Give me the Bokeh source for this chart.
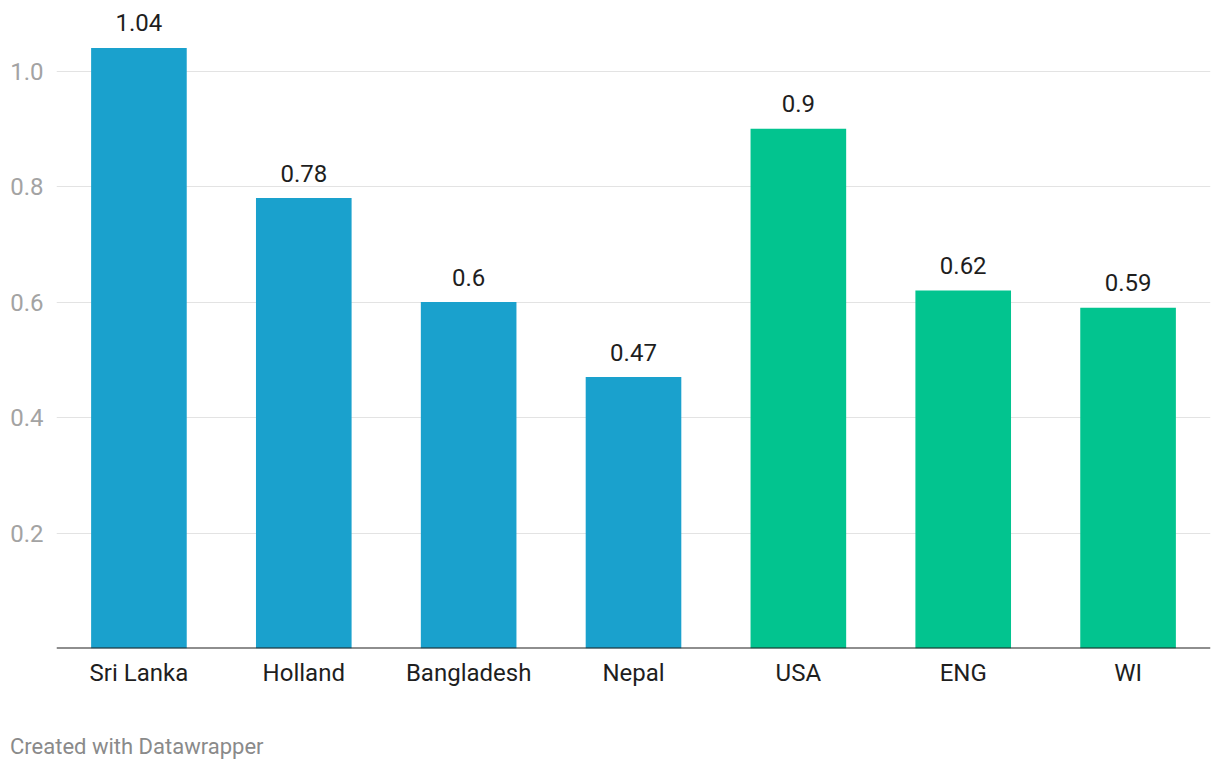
from bokeh.plotting import figure
from bokeh.models import ColumnDataSource, FixedTicker, Span, Range1d, NumeralTickFormatter, Div
from bokeh.layouts import column
from bokeh.core.properties import value
from bokeh.embed import file_html
from bokeh.resources import INLINE

categories = ["Sri Lanka", "Holland", "Bangladesh", "Nepal", "USA", "ENG", "WI"]
values = [1.04, 0.78, 0.6, 0.47, 0.9, 0.62, 0.59]
labels = ["1.04", "0.78", "0.6", "0.47", "0.9", "0.62", "0.59"]
colors = ["#1aa1cd", "#1aa1cd", "#1aa1cd", "#1aa1cd", "#02c48f", "#02c48f", "#02c48f"]
y_ticks = [0.2, 0.4, 0.6, 0.8, 1.0]
footer_text = "Created with Datawrapper"

FONT = "Roboto"

src = ColumnDataSource(dict(cat=categories, val=values, lab=labels, col=colors))

p = figure(x_range=categories, y_range=Range1d(0, 1.1221), width=1220, height=708,
           output_backend="svg", toolbar_location=None,
           min_border_left=56, min_border_right=10, min_border_top=0, min_border_bottom=60)
p.outline_line_color = None
p.background_fill_color = "white"
p.border_fill_color = "white"

p.vbar(x="cat", top="val", width=0.58, color="col", line_color=None, source=src)

p.text(x="cat", y="val", text="lab", source=src, text_align="center",
       text_baseline="middle", y_offset=-25, text_color="#1e1e1e",
       text_font=value(FONT), text_font_size="24px")

p.x_range.range_padding = 0
p.x_range.factor_padding = 0

p.yaxis.ticker = FixedTicker(ticks=y_ticks)
p.yaxis.formatter = NumeralTickFormatter(format="0.0")
p.yaxis.axis_line_color = None
p.yaxis.major_tick_line_color = None
p.yaxis.minor_tick_line_color = None
p.yaxis.major_label_standoff = 7
p.yaxis.major_label_text_color = "#a3a3a3"
p.yaxis.major_label_text_font = FONT
p.yaxis.major_label_text_font_size = "24px"

p.xaxis.axis_line_color = None
p.xaxis.major_tick_line_color = None
p.xaxis.minor_tick_line_color = None
p.xaxis.major_label_standoff = 4
p.xaxis.major_label_text_color = "#1e1e1e"
p.xaxis.major_label_text_font = FONT
p.xaxis.major_label_text_font_size = "24px"

p.xgrid.grid_line_color = None
p.ygrid.grid_line_color = "#e3e3e3"
p.ygrid.grid_line_width = 1

p.add_layout(Span(location=0, dimension="width", line_color="#1e1e1e", line_width=2))

footer = Div(text=footer_text, width=1200, height=56,
             styles={"font-family": "Roboto", "font-size": "22px", "color": "#8a8a8a",
                     "line-height": "26px", "padding-top": "21px", "padding-left": "5px"})

layout = column(p, footer, spacing=0)

open("out.html", "w").write(file_html(layout, INLINE))
